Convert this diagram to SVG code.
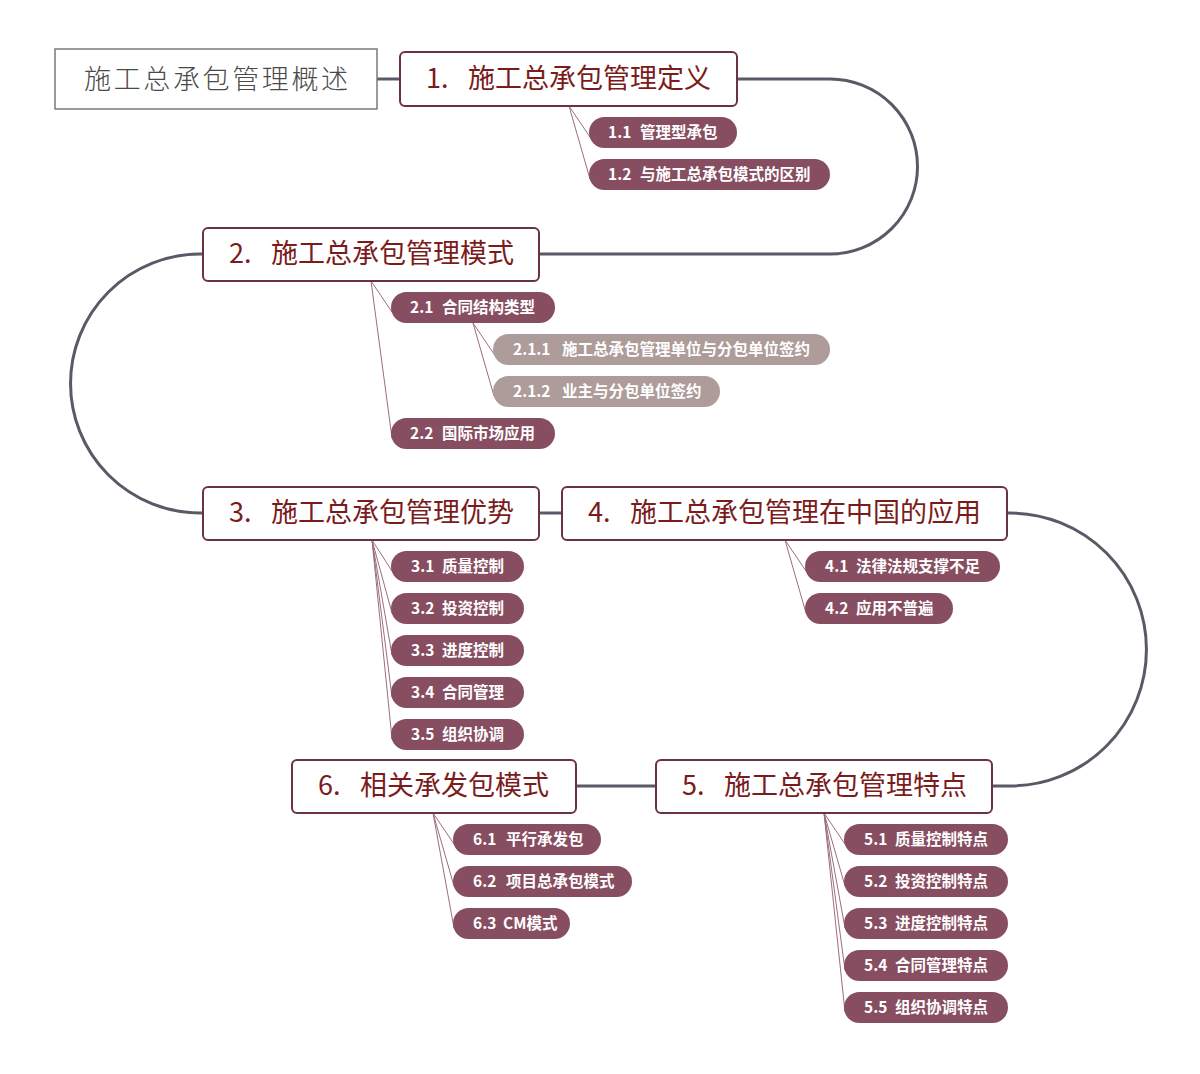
<svg xmlns="http://www.w3.org/2000/svg" width="1200" height="1074" viewBox="0 0 1200 1074">
<style>
.bg{fill:#ffffff}
.main{fill:#ffffff;stroke:#6b3342;stroke-width:2}
.root{fill:#ffffff;stroke:#7a7a7e;stroke-width:1.5}
.mt{font-family:"Noto Sans CJK SC","Liberation Serif",serif;font-size:27px;fill:#7a1c1c}
.rt{font-family:"Noto Sans CJK SC","Liberation Sans",sans-serif;font-size:27px;fill:#4a4a4a;font-weight:300}
.pill{fill:#874e62}
.pill2{fill:#ad9c99}
.ct{font-family:"Noto Sans CJK SC","Liberation Sans",sans-serif;font-size:15.5px;font-weight:bold;fill:#ffffff}
.trunk{fill:none;stroke:#5b5966;stroke-width:3}
.branch{fill:none;stroke:#9c6e7b;stroke-width:1}
</style>
<rect class="bg" x="0" y="0" width="1200" height="1074"/>
<g id="connectors">
<path class="trunk" d="M377 79 H400"/>
<path class="trunk" d="M737 79 H830 A87.5 87.5 0 0 1 830 254 H539"/>
<path class="trunk" d="M203 254 H200 A129.5 129.5 0 0 0 200 513 H203"/>
<path class="trunk" d="M539 513 H562"/>
<path class="trunk" d="M1007 513 H1010 A136.5 136.5 0 0 1 1010 786 H992"/>
<path class="trunk" d="M576 786 H656"/>
<path class="branch" d="M569 106 L590 137 M569 106 L590 179"/>
<path class="branch" d="M371 281 L392 312 M371 281 L392 438"/>
<path class="branch" d="M473 323 L494 354 M473 323 L494 396"/>
<path class="branch" d="M372 540 L392 571 M372 540 L392 613 M372 540 L392 655 M372 540 L392 697 M372 540 L392 739"/>
<path class="branch" d="M785 540 L806 571 M785 540 L806 613"/>
<path class="branch" d="M824 813 L845 844 M824 813 L845 886 M824 813 L845 928 M824 813 L845 970 M824 813 L845 1012"/>
<path class="branch" d="M433 813 L454 844 M433 813 L454 886 M433 813 L454 928"/>
</g>
<g id="root">
<rect class="root" x="55" y="49" width="322" height="60"/>
<text class="rt" x="84" y="89" textLength="264">施工总承包管理概述</text>
</g>
<g id="n1">
<rect class="main" x="400" y="52" width="337" height="54" rx="5"/>
<text class="mt" x="426" y="88">1.<tspan x="468">施工总承包管理定义</tspan></text>
</g>
<g id="n1-1"><rect class="pill" x="589" y="117" width="148" height="31" rx="15.5"/><text class="ct" x="608" y="138">1.1<tspan x="640">管理型承包</tspan></text></g>
<g id="n1-2"><rect class="pill" x="589" y="159" width="241" height="31" rx="15.5"/><text class="ct" x="608" y="180">1.2<tspan x="640">与施工总承包模式的区别</tspan></text></g>
<g id="n2">
<rect class="main" x="203" y="228" width="336" height="53" rx="5"/>
<text class="mt" x="229" y="263">2.<tspan x="271">施工总承包管理模式</tspan></text>
</g>
<g id="n2-1"><rect class="pill" x="391" y="292" width="164" height="31" rx="15.5"/><text class="ct" x="410" y="313">2.1<tspan x="442">合同结构类型</tspan></text></g>
<g id="n2-1-1"><rect class="pill2" x="493" y="334" width="337" height="31" rx="15.5"/><text class="ct" x="513" y="355">2.1.1<tspan x="562">施工总承包管理单位与分包单位签约</tspan></text></g>
<g id="n2-1-2"><rect class="pill2" x="493" y="376" width="227" height="31" rx="15.5"/><text class="ct" x="513" y="397">2.1.2<tspan x="562">业主与分包单位签约</tspan></text></g>
<g id="n2-2"><rect class="pill" x="391" y="418" width="164" height="31" rx="15.5"/><text class="ct" x="410" y="439">2.2<tspan x="442">国际市场应用</tspan></text></g>
<g id="n3">
<rect class="main" x="203" y="487" width="336" height="53" rx="5"/>
<text class="mt" x="229" y="522">3.<tspan x="271">施工总承包管理优势</tspan></text>
</g>
<g id="n3-1"><rect class="pill" x="391" y="551" width="133" height="31" rx="15.5"/><text class="ct" x="411" y="572">3.1<tspan x="442">质量控制</tspan></text></g>
<g id="n3-2"><rect class="pill" x="391" y="593" width="133" height="31" rx="15.5"/><text class="ct" x="411" y="614">3.2<tspan x="442">投资控制</tspan></text></g>
<g id="n3-3"><rect class="pill" x="391" y="635" width="133" height="31" rx="15.5"/><text class="ct" x="411" y="656">3.3<tspan x="442">进度控制</tspan></text></g>
<g id="n3-4"><rect class="pill" x="391" y="677" width="133" height="31" rx="15.5"/><text class="ct" x="411" y="698">3.4<tspan x="442">合同管理</tspan></text></g>
<g id="n3-5"><rect class="pill" x="391" y="719" width="133" height="31" rx="15.5"/><text class="ct" x="411" y="740">3.5<tspan x="442">组织协调</tspan></text></g>
<g id="n4">
<rect class="main" x="562" y="487" width="445" height="53" rx="5"/>
<text class="mt" x="588" y="522">4.<tspan x="630">施工总承包管理在中国的应用</tspan></text>
</g>
<g id="n4-1"><rect class="pill" x="805" y="551" width="195" height="31" rx="15.5"/><text class="ct" x="825" y="572">4.1<tspan x="856">法律法规支撑不足</tspan></text></g>
<g id="n4-2"><rect class="pill" x="805" y="593" width="148" height="31" rx="15.5"/><text class="ct" x="825" y="614">4.2<tspan x="856">应用不普遍</tspan></text></g>
<g id="n5">
<rect class="main" x="656" y="760" width="336" height="53" rx="5"/>
<text class="mt" x="682" y="795">5.<tspan x="724">施工总承包管理特点</tspan></text>
</g>
<g id="n5-1"><rect class="pill" x="844" y="824" width="164" height="31" rx="15.5"/><text class="ct" x="864" y="845">5.1<tspan x="895">质量控制特点</tspan></text></g>
<g id="n5-2"><rect class="pill" x="844" y="866" width="164" height="31" rx="15.5"/><text class="ct" x="864" y="887">5.2<tspan x="895">投资控制特点</tspan></text></g>
<g id="n5-3"><rect class="pill" x="844" y="908" width="164" height="31" rx="15.5"/><text class="ct" x="864" y="929">5.3<tspan x="895">进度控制特点</tspan></text></g>
<g id="n5-4"><rect class="pill" x="844" y="950" width="164" height="31" rx="15.5"/><text class="ct" x="864" y="971">5.4<tspan x="895">合同管理特点</tspan></text></g>
<g id="n5-5"><rect class="pill" x="844" y="992" width="164" height="31" rx="15.5"/><text class="ct" x="864" y="1013">5.5<tspan x="895">组织协调特点</tspan></text></g>
<g id="n6">
<rect class="main" x="292" y="760" width="284" height="53" rx="5"/>
<text class="mt" x="318" y="795">6.<tspan x="360">相关承发包模式</tspan></text>
</g>
<g id="n6-1"><rect class="pill" x="453" y="824" width="148" height="31" rx="15.5"/><text class="ct" x="473" y="845">6.1<tspan x="506">平行承发包</tspan></text></g>
<g id="n6-2"><rect class="pill" x="453" y="866" width="179" height="31" rx="15.5"/><text class="ct" x="473" y="887">6.2<tspan x="506">项目总承包模式</tspan></text></g>
<g id="n6-3"><rect class="pill" x="453" y="908" width="117" height="31" rx="15.5"/><text class="ct" x="473" y="929">6.3<tspan x="503">CM模式</tspan></text></g>
</svg>
